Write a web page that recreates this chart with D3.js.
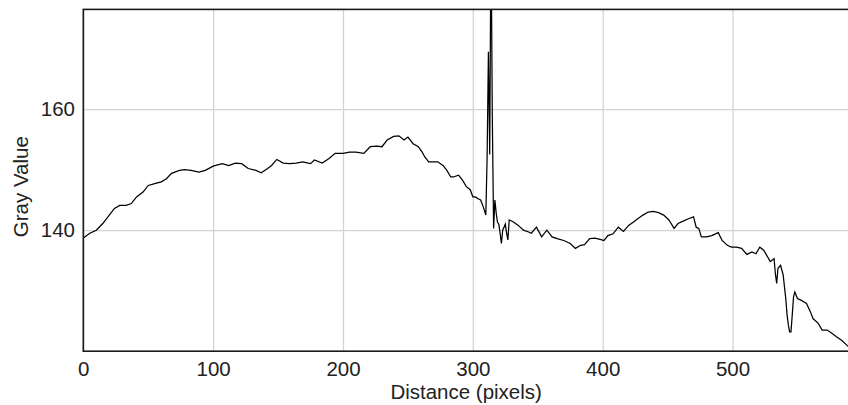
<!DOCTYPE html>
<html>
<head>
<meta charset="utf-8">
<script src="https://cdn.jsdelivr.net/npm/d3@7"></script>
<style>
  body { margin: 0; background: #fff; }
  text { font-family: "Liberation Sans", Arial, Helvetica, sans-serif; fill: #222; }
</style>
</head>
<body>
<div id="plot"></div>
<script>
// profile data (distance in pixels, gray value)
var distance = [0, 5, 10, 15, 20, 24, 28, 33, 37, 41, 46, 50, 55, 60, 64, 68, 74, 78, 83, 89,
  94, 100, 107, 112, 117, 122, 127, 133, 137, 142, 145, 149, 154, 159, 164, 169, 175, 178, 184, 189,
  194, 200, 205, 210, 216, 221, 226, 230, 234, 239, 243, 247, 250, 254, 258, 261, 263, 266, 270, 273,
  277, 280, 283, 285, 289, 292, 295, 298, 300, 302, 304, 306, 308, 310, 311, 312, 313, 314, 315, 316,
  317, 318, 319, 320, 321, 322, 323, 324, 325, 326, 327, 328, 331, 335, 339, 343, 345, 349, 353, 357,
  361, 365, 370, 375, 379, 383, 386, 390, 394, 398, 401, 404, 408, 412, 416, 420, 424, 427, 431, 435,
  439, 443, 447, 451, 455, 458, 462, 466, 470, 472, 474, 476, 480, 484, 489, 492, 496, 499, 503, 507,
  511, 515, 518, 521, 524, 527, 529, 532, 533, 534, 535, 537, 539, 541, 542, 543, 544, 545, 546, 547,
  548, 550, 553, 557, 560, 562, 566, 569, 573, 577, 580, 584, 588, 589];
var grayValue = [138.7, 139.5, 140.0, 141.1, 142.5, 143.6, 144.1, 144.1, 144.4, 145.5, 146.3, 147.4, 147.7, 148.0, 148.5, 149.4, 149.9, 150.0, 149.9, 149.6,
  149.9, 150.6, 151.0, 150.7, 151.1, 151.0, 150.2, 149.9, 149.5, 150.2, 150.7, 151.7, 151.1, 151.0, 151.1, 151.3, 151.0, 151.6, 151.1, 151.8,
  152.7, 152.7, 152.9, 152.9, 152.7, 153.8, 153.9, 153.8, 154.9, 155.5, 155.6, 154.9, 155.4, 154.3, 153.8, 152.9, 152.1, 151.3, 151.3, 151.3,
  150.7, 149.9, 148.8, 148.8, 149.1, 148.3, 147.2, 146.7, 145.5, 145.5, 145.2, 145.0, 143.9, 142.5, 152.1, 169.5, 152.5, 190.0, 158.5, 140.3,
  145.0, 142.8, 141.3, 141.0, 139.5, 137.8, 140.0, 140.5, 141.0, 139.5, 138.4, 141.7, 141.4, 140.8, 140.0, 139.7, 139.5, 140.5, 138.9, 140.0,
  138.9, 138.6, 138.3, 137.8, 137.0, 137.5, 137.6, 138.6, 138.7, 138.5, 138.3, 139.1, 139.4, 140.5, 139.8, 140.8, 141.4, 141.9, 142.5, 143.0,
  143.1, 142.9, 142.5, 141.7, 140.3, 141.1, 141.5, 141.9, 142.2, 140.5, 140.3, 138.9, 138.9, 139.1, 139.6, 138.3, 137.5, 137.2, 137.2, 137.0,
  136.0, 136.4, 136.1, 137.2, 136.7, 135.6, 134.8, 135.3, 132.8, 131.2, 133.7, 134.2, 132.6, 128.7, 126.0, 124.3, 123.2, 123.2, 126.0, 129.0,
  129.8, 128.7, 128.4, 127.9, 126.5, 125.4, 124.6, 123.5, 123.5, 122.9, 122.4, 121.8, 121.0, 120.8];
var xTicks = [0, 100, 200, 300, 400, 500];
var yTicks = [140, 160];

var W = 848, H = 405;
var plotLeft = 83.3, plotRight = 849, plotTop = 9.4, plotBottom = 351.2;

var svg = d3.select("#plot")
  .append("svg")
  .attr("width", W)
  .attr("height", H);

var x = d3.scaleLinear().domain([0, 589.7]).range([plotLeft, plotRight]);
var y = d3.scaleLinear().domain([120, 176.5]).range([plotBottom, plotTop]);

// grid + tick labels
var xAxis = svg.append("g")
  .attr("transform", "translate(0," + plotBottom + ")")
  .call(d3.axisBottom(x).tickValues(xTicks).tickFormat(d3.format("d"))
    .tickSizeInner(-(plotBottom - plotTop)).tickSizeOuter(0).tickPadding(10.3));
var yAxis = svg.append("g")
  .attr("transform", "translate(" + plotLeft + ",0)")
  .call(d3.axisLeft(y).tickValues(yTicks).tickFormat(d3.format("d"))
    .tickSizeInner(-(plotRight - plotLeft)).tickSizeOuter(0).tickPadding(8.3));

[xAxis, yAxis].forEach(function (g) {
  g.select(".domain").remove();
  g.selectAll(".tick line").attr("stroke", "#d4d4d4").attr("stroke-width", 1.3);
  g.selectAll(".tick text")
    .style("font-family", "'Liberation Sans', Arial, Helvetica, sans-serif")
    .style("font-size", "20.5px")
    .attr("fill", "#222");
});

svg.append("clipPath").attr("id", "clip")
  .append("rect")
  .attr("x", plotLeft).attr("y", plotTop)
  .attr("width", plotRight - plotLeft).attr("height", plotBottom - plotTop);

var points = distance.map(function (d, i) { return [d, grayValue[i]]; });

svg.append("path")
  .datum(points)
  .attr("clip-path", "url(#clip)")
  .attr("fill", "none")
  .attr("stroke", "#000")
  .attr("stroke-width", 1.25)
  .attr("d", d3.line()
    .x(function (d) { return x(d[0]); })
    .y(function (d) { return y(d[1]); }));

// frame
svg.append("rect")
  .attr("x", plotLeft).attr("y", plotTop)
  .attr("width", plotRight - plotLeft).attr("height", plotBottom - plotTop)
  .attr("fill", "none")
  .attr("stroke", "#1a1a1a")
  .attr("stroke-width", 1.6);

svg.append("text")
  .attr("x", (plotLeft + plotRight) / 2)
  .attr("y", 399)
  .attr("text-anchor", "middle")
  .style("font-size", "20.5px")
  .text("Distance (pixels)");

svg.append("text")
  .attr("transform", "translate(27.5,186.7) rotate(-90)")
  .attr("text-anchor", "middle")
  .style("font-size", "20.5px")
  .text("Gray Value");
</script>
</body>
</html>
